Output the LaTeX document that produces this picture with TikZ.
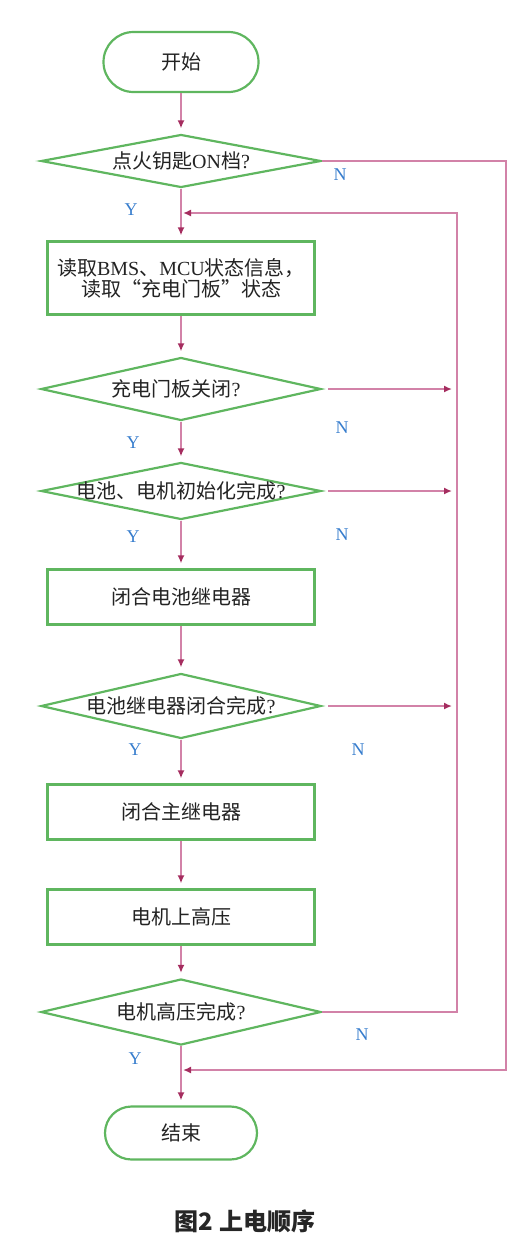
\documentclass[tikz,border=0pt]{standalone}
\usepackage{fontspec}
\setmainfont{Liberation Serif}
\newfontfamily\cjk{Noto Sans CJK SC}
\newfontfamily\latf{Liberation Serif}
\usetikzlibrary{shapes.geometric,shapes.misc,arrows.meta}
\definecolor{boxgreen}{RGB}{95,182,95}
\definecolor{linepink}{RGB}{210,130,168}
\definecolor{tippink}{RGB}{165,45,95}
\definecolor{lblblue}{RGB}{55,125,205}
\definecolor{txt}{RGB}{35,35,35}
\begin{document}
\begin{tikzpicture}[x=1pt,y=-1pt,
  every node/.style={font=\cjk\fontsize{20}{21}\selectfont, text=txt},
  term/.style={draw=boxgreen, line width=2.2pt, rounded rectangle, inner sep=0},
  proc/.style={draw=boxgreen, line width=2.2pt, rectangle, minimum width=267, inner sep=0},
  dec/.style={draw=boxgreen, line width=2.2pt, diamond, minimum width=280, inner sep=0},
  conn/.style={draw=linepink, line width=1.6pt, -{Latex[length=8pt,width=7pt,color=tippink]}, shorten >=5pt},
  lbl/.style={text=lblblue, font=\latf\fontsize{18}{20}\selectfont}
]
\useasboundingbox (0,0) rectangle (520,1251);

% nodes
\node[term, minimum width=155, minimum height=60] (start) at (181,62) {开始};
\node[dec, minimum height=53] (d1) at (181,161) {};
\node at (d1) {点火钥匙{\latf ON}档{\latf ?}};
\node[proc, minimum height=73, align=center] (b1) at (181,278) {读取{\latf BMS}、{\latf MCU}状态信息，\\ 读取“充电门板”状态};
\node[dec, minimum height=63] (d2) at (181,389) {};
\node at ([xshift=-5pt]d2.center) {充电门板关闭{\latf ?}};
\node[dec, minimum height=57] (d3) at (181,491) {};
\node at (d3) {电池、电机初始化完成{\latf ?}};
\node[proc, minimum height=55] (b2) at (181,597) {闭合电池继电器};
\node[dec, minimum height=65] (d4) at (181,706) {};
\node at (d4) {电池继电器闭合完成{\latf ?}};
\node[proc, minimum height=55] (b3) at (181,812) {闭合主继电器};
\node[proc, minimum height=55] (b4) at (181,917) {电机上高压};
\node[dec, minimum height=66] (d5) at (181,1012) {};
\node at (d5) {电机高压完成{\latf ?}};
\node[term, minimum width=152, minimum height=53] (end) at (181,1133) {结束};

\coordinate (m1) at (181,213);
\coordinate (m2) at (181,1070);
\coordinate (iv) at (457,0);
\coordinate (ov) at (506,0);

% main flow
\draw[conn] (start) -- (d1);
\draw[conn] (d1) -- (b1);
\draw[conn] (b1) -- (d2);
\draw[conn] (d2) -- (d3);
\draw[conn] (d3) -- (b2);
\draw[conn] (b2) -- (d4);
\draw[conn] (d4) -- (b3);
\draw[conn] (b3) -- (b4);
\draw[conn] (b4) -- (d5);
\draw[conn] (d5) -- (end);

% N branches
\draw[conn, shorten <=6pt] (d2.east) -- (d2.east -| iv);
\draw[conn, shorten <=6pt] (d3.east) -- (d3.east -| iv);
\draw[conn, shorten <=6pt] (d4.east) -- (d4.east -| iv);
\draw[conn, shorten >=2pt] (d5.east) -- (d5.east -| iv) -- (iv |- m1) -- (m1);
\draw[conn, shorten >=2pt] (d1.east) -- (d1.east -| ov) -- (ov |- m2) -- (m2);

% labels
\node[lbl] (n1) at (340,175) {N};
\node[lbl] (y1) at (131,210) {Y};
\node[lbl] (n2) at (342,428) {N};
\node[lbl] (y2) at (133,443) {Y};
\node[lbl] (n3) at (342,535) {N};
\node[lbl] (y3) at (133,537) {Y};
\node[lbl] (n4) at (358,750) {N};
\node[lbl] (y4) at (135,750) {Y};
\node[lbl] (n5) at (362,1035) {N};
\node[lbl] (y5) at (135,1059) {Y};

% caption
\node[font=\cjk\bfseries\fontsize{24}{26}\selectfont, text=black!85] (cap) at (245,1221) {图2 上电顺序};
\end{tikzpicture}
\end{document}
